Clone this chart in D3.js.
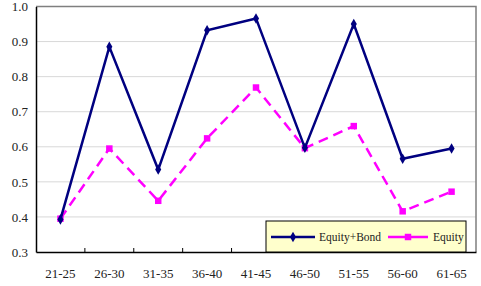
<!DOCTYPE html>
<html>
<head>
<meta charset="utf-8">
<script src="https://cdn.jsdelivr.net/npm/d3@7"></script>
<style>
  body { margin: 0; background: #fff; }
  text { font-family: "Liberation Serif", "Times New Roman", serif; }
</style>
</head>
<body>
<div id="chart"></div>
<script>
var categories = ["21-25", "26-30", "31-35", "36-40", "41-45", "46-50", "51-55", "56-60", "61-65"];
var equityBond = [0.393, 0.885, 0.535, 0.932, 0.966, 0.597, 0.950, 0.566, 0.595];
var equity = [0.395, 0.595, 0.446, 0.624, 0.769, 0.596, 0.659, 0.416, 0.472];
var yTicks = [0.3, 0.4, 0.5, 0.6, 0.7, 0.8, 0.9, 1.0];

var width = 481, height = 286;
var margin = {top: 6.5, right: 5, bottom: 34, left: 36};
var innerW = width - margin.left - margin.right;
var innerH = height - margin.top - margin.bottom;

var svg = d3.select("#chart").append("svg")
    .attr("width", width)
    .attr("height", height);

var g = svg.append("g")
    .attr("transform", "translate(" + margin.left + "," + margin.top + ")");

var x = d3.scaleBand().domain(categories).range([0, innerW]);
var y = d3.scaleLinear().domain([0.3, 1.0]).range([innerH, 0]);

// gridlines
g.selectAll(".grid")
    .data(yTicks.slice(1, -1))
    .enter().append("line")
    .attr("x1", 0).attr("x2", innerW)
    .attr("y1", function(d){ return y(d); })
    .attr("y2", function(d){ return y(d); })
    .attr("stroke", "#d8d8d8")
    .attr("stroke-width", 1);

// frame top / right
g.append("path")
    .attr("d", "M0," + y(1.0) + "H" + innerW + "V" + innerH)
    .attr("fill", "none")
    .attr("stroke", "#7f7f7f")
    .attr("stroke-width", 1.5);

// y axis
var yAxis = d3.axisLeft(y).tickValues(yTicks).tickFormat(d3.format(".1f")).tickSize(0).tickPadding(8);
g.append("g")
    .call(yAxis)
    .call(function(s){
      s.select(".domain").attr("stroke", "#000").attr("stroke-width", 1.5);
      s.selectAll("text").style("font-size", "13px").attr("fill", "#222")
        .style("font-family", "'Liberation Serif', serif");
    });

// x axis
var xAxis = d3.axisBottom(x).tickSize(0).tickPadding(17);
g.append("g")
    .attr("transform", "translate(0," + innerH + ")")
    .call(xAxis)
    .call(function(s){
      s.select(".domain").attr("stroke", "#000").attr("stroke-width", 1.5);
      s.selectAll("text").style("font-size", "13px").attr("fill", "#222")
        .style("font-family", "'Liberation Serif', serif");
    });

// tick marks pointing inward between categories
g.selectAll(".xtick")
    .data(categories.slice(1))
    .enter().append("line")
    .attr("x1", function(d){ return x(d); })
    .attr("x2", function(d){ return x(d); })
    .attr("y1", innerH).attr("y2", innerH - 4)
    .attr("stroke", "#000").attr("stroke-width", 1);

var line = d3.line()
    .x(function(d, i){ return x(categories[i]) + x.bandwidth() / 2; })
    .y(function(d){ return y(d); });

var diamond = d3.symbol().type(d3.symbolDiamond).size(32);
var square = d3.symbol().type(d3.symbolSquare).size(42);

// Equity (dashed magenta)
g.append("path")
    .datum(equity)
    .attr("d", line)
    .attr("fill", "none")
    .attr("stroke", "#ff00ff")
    .attr("stroke-width", 2.5)
    .attr("stroke-dasharray", "10,6");

g.selectAll(".sq")
    .data(equity)
    .enter().append("path")
    .attr("d", square)
    .attr("transform", function(d, i){
      return "translate(" + (x(categories[i]) + x.bandwidth() / 2) + "," + y(d) + ")";
    })
    .attr("fill", "#ff00ff");

// Equity+Bond (solid navy)
g.append("path")
    .datum(equityBond)
    .attr("d", line)
    .attr("fill", "none")
    .attr("stroke", "#000080")
    .attr("stroke-width", 2.5);

g.selectAll(".dm")
    .data(equityBond)
    .enter().append("path")
    .attr("d", diamond)
    .attr("transform", function(d, i){
      return "translate(" + (x(categories[i]) + x.bandwidth() / 2) + "," + y(d) + ")";
    })
    .attr("fill", "#000080");

// legend
var legend = svg.append("g").attr("transform", "translate(266,221)");
legend.append("rect")
    .attr("width", 200).attr("height", 31)
    .attr("fill", "#ffffcc")
    .attr("stroke", "#000").attr("stroke-width", 1);

legend.append("line")
    .attr("x1", 5).attr("x2", 49).attr("y1", 16).attr("y2", 16)
    .attr("stroke", "#000080").attr("stroke-width", 2.5);
legend.append("path")
    .attr("d", diamond)
    .attr("transform", "translate(27,16)")
    .attr("fill", "#000080");
legend.append("text")
    .attr("x", 53).attr("y", 20)
    .style("font-size", "11.5px")
    .attr("fill", "#222")
    .text("Equity+Bond");

legend.append("line")
    .attr("x1", 122).attr("x2", 162).attr("y1", 16).attr("y2", 16)
    .attr("stroke", "#ff00ff").attr("stroke-width", 2.5);
legend.append("path")
    .attr("d", square)
    .attr("transform", "translate(142,16)")
    .attr("fill", "#ff00ff");
legend.append("text")
    .attr("x", 167).attr("y", 20)
    .style("font-size", "11.5px")
    .attr("fill", "#222")
    .text("Equity");
</script>
</body>
</html>
